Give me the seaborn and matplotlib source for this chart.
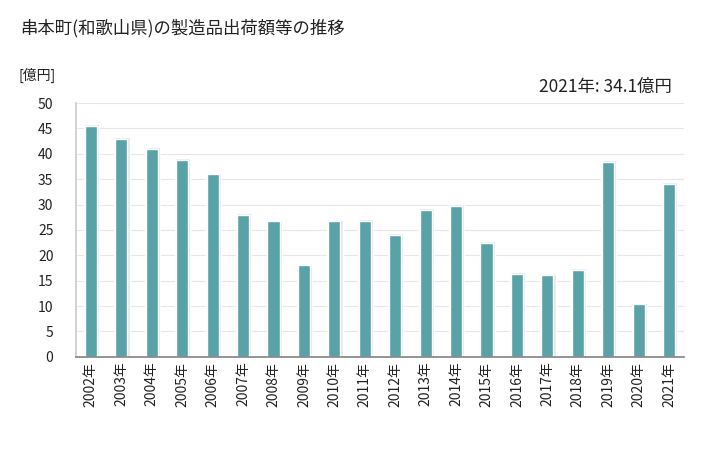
import numpy as np
import pandas as pd
import matplotlib
matplotlib.use('Agg')
import matplotlib.pyplot as plt
import seaborn as sns

# data
years = [f"{y}年" for y in range(2002, 2022)]
values = [45.5, 43.0, 41.0, 38.8, 36.0, 28.0, 26.7, 18.0, 26.7, 26.8,
          24.1, 29.0, 29.8, 22.5, 16.4, 16.1, 17.2, 38.4, 10.4, 34.1]
yticks = list(range(0, 55, 5))

title = "串本町(和歌山県)の製造品出荷額等の推移"
unit_label = "[億円]"
latest_note = "2021年: 34.1億円"

df = pd.DataFrame({"year": years, "value": values})

sns.set_theme(style="white")
plt.rcParams['font.family'] = ['Noto Sans CJK JP', 'DejaVu Sans']

fig = plt.figure(figsize=(7.28, 4.5), dpi=100)
ax = fig.add_axes([0.104, 0.207, 0.836, 0.564])

bar_color = "#58a2a8"
# soft shadow behind bars
ax.bar(np.arange(len(values)) + 0.02, [v + 0.3 for v in values], width=0.5,
       color="#e6e6e6", zorder=1)
sns.barplot(data=df, x="year", y="value", color=bar_color, width=0.4,
            saturation=1, ax=ax, zorder=2)

ax.set_ylim(0, 50)
ax.set_xlim(-0.5, len(values) - 0.5)
ax.set_yticks(yticks)
ax.set_yticklabels([str(t) for t in yticks], fontsize=10, color="#222222")
ax.tick_params(axis='x', labelrotation=90, labelsize=10, colors="#222222")
ax.tick_params(axis='both', length=4, width=0.8, color="#888888", direction="out")
ax.tick_params(axis='y', length=4, pad=12)
ax.set_xlabel("")
ax.set_ylabel("")

ax.yaxis.grid(True, color="#e6e6e6", linewidth=0.8, zorder=0)
ax.set_axisbelow(True)
for side in ["top", "right"]:
    ax.spines[side].set_visible(False)
ax.spines["left"].set_color("#cccccc")
ax.spines["bottom"].set_color("#888888")

# x tick marks between categories
ax.set_xticks(np.arange(len(values)) - 0.5, minor=True)
ax.tick_params(axis='x', which='major', length=0)
ax.tick_params(axis='x', which='minor', length=5, color="#888888")

fig.text(20 / 728, 1 - 28 / 450, title, fontsize=12.5, va="center", ha="left", color="#222222")
fig.text(18 / 728, 1 - 75 / 450, unit_label, fontsize=10, va="center", ha="left", color="#222222")
fig.text(672 / 728, 1 - 87 / 450, latest_note, fontsize=12.5, va="center", ha="right", color="#222222")

fig.savefig("out.png", dpi=100)
